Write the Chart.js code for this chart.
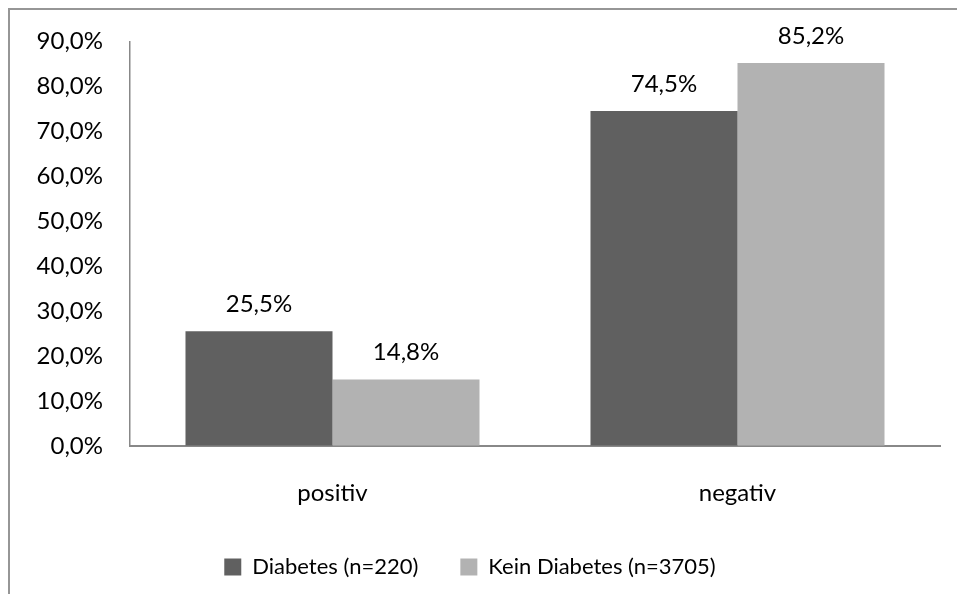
<!DOCTYPE html>
<html>
<head>
<meta charset="utf-8">
<script src="https://cdn.jsdelivr.net/npm/chart.js@4/dist/chart.umd.min.js"></script>
<style>
  html, body { margin: 0; padding: 0; background: #ffffff; }
  #wrap { width: 957px; height: 594px; position: relative; }
</style>
</head>
<body>
<div id="wrap"><canvas id="c"></canvas></div>
<script>
// Test result by diabetes status (share in percent)
const categories = ['positiv', 'negativ'];
const seriesNames = ['Diabetes (n=220)', 'Kein Diabetes (n=3705)'];
const diabetes = [25.5, 74.5];
const keinDiabetes = [14.8, 85.2];
const seriesColors = ['#606060', '#b2b2b2'];

const FONT = 'Lato, "Open Sans", sans-serif';
const fmt = v => v.toFixed(1).replace('.', ',') + '%';

// Thin grey frame around the whole chart (open towards right/bottom edge)
const framePlugin = {
  id: 'frame',
  beforeDraw(chart) {
    const ctx = chart.ctx;
    ctx.save();
    ctx.fillStyle = '#ffffff';
    ctx.fillRect(0, 0, chart.width, chart.height);
    ctx.strokeStyle = '#969696';
    ctx.lineWidth = 2;
    ctx.strokeRect(9, 9, chart.width + 20, chart.height + 20);
    ctx.restore();
  }
};

// Value labels above each bar
const valueLabels = {
  id: 'valueLabels',
  afterDatasetsDraw(chart) {
    const ctx = chart.ctx;
    ctx.save();
    ctx.font = '24px ' + FONT;
    ctx.fillStyle = '#000000';
    ctx.textAlign = 'center';
    ctx.textBaseline = 'middle';
    chart.data.datasets.forEach((ds, i) => {
      chart.getDatasetMeta(i).data.forEach((bar, j) => {
        ctx.fillText(fmt(ds.data[j]), bar.x, bar.y - 27);
      });
    });
    ctx.restore();
  }
};

new Chart(document.getElementById('c'), {
  type: 'bar',
  data: {
    labels: categories,
    datasets: [
      { label: seriesNames[0], data: diabetes, backgroundColor: seriesColors[0] },
      { label: seriesNames[1], data: keinDiabetes, backgroundColor: seriesColors[1] }
    ]
  },
  options: {
    responsive: true,
    maintainAspectRatio: false,
    animation: false,
    devicePixelRatio: 1,
    layout: { padding: { left: 0, right: 17, top: 38, bottom: 6 } },
    datasets: { bar: { barPercentage: 1.0, categoryPercentage: 0.726 } },
    plugins: {
      legend: {
        position: 'bottom',
        labels: {
          font: { family: FONT, size: 22 },
          color: '#000000',
          boxWidth: 17,
          boxHeight: 17,
          padding: 42
        }
      },
      tooltip: { enabled: false }
    },
    scales: {
      x: {
        afterFit(scale) { scale.height = 68; },
        grid: { display: true, drawOnChartArea: false, drawTicks: false, color: 'transparent' },
        border: { display: true, color: '#888888', width: 2 },
        ticks: { font: { family: FONT, size: 24 }, color: '#000000', padding: 33 }
      },
      y: {
        min: 0,
        max: 90,
        afterFit(scale) { scale.width = 130; },
        grid: { display: true, drawOnChartArea: false, drawTicks: false, color: 'transparent' },
        border: { display: true, color: '#888888', width: 1.5 },
        ticks: {
          stepSize: 10,
          font: { family: FONT, size: 24 },
          color: '#000000',
          padding: 27,
          callback: v => fmt(v)
        }
      }
    }
  },
  plugins: [framePlugin, valueLabels]
});
</script>
</body>
</html>
